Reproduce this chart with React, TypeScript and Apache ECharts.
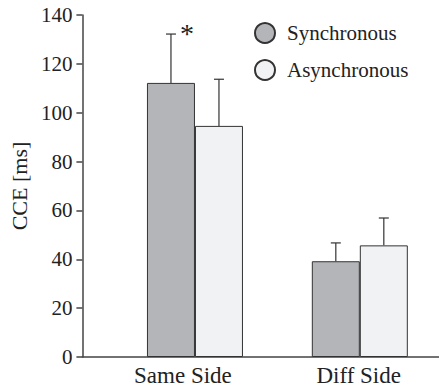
import React, { useEffect, useRef } from "react";
import * as echarts from "echarts";

const categories = ["Same Side", "Diff Side"];
const positions = [1, 2];
const labelPositions = [0.927, 1.993];
const syncMeans = [112.2, 39.2];
const syncUpper = [132.2, 46.7];
const asyncMeans = [94.6, 45.7];
const asyncUpper = [113.7, 56.9];
const significance = ["*", ""];
const yTicks = [0, 20, 40, 60, 80, 100, 120, 140];

const FONT = '"Liberation Serif", "Times New Roman", serif';
const SYNC_COLOR = "#b4b5b9";
const ASYNC_COLOR = "#f1f2f4";
const EDGE = "#333333";

function errorSeries(means: number[], uppers: number[], offset: number, marks: string[]) {
  return {
    type: "custom",
    z: 5,
    silent: true,
    data: positions.map((p, i) => [p, means[i], uppers[i], i]),
    renderItem: (params: any, api: any) => {
      const x = api.value(0);
      const lo = api.value(1);
      const hi = api.value(2);
      const idx = api.value(3);
      const p0 = api.coord([x, lo]);
      const p1 = api.coord([x, hi]);
      const cx = p0[0] + offset;
      const style = { stroke: EDGE, lineWidth: 1.2 };
      const children: any[] = [
        { type: "line", shape: { x1: cx, y1: p0[1], x2: cx, y2: p1[1] }, style },
        { type: "line", shape: { x1: cx - 5, y1: p1[1], x2: cx + 5, y2: p1[1] }, style },
      ];
      const m = marks[idx];
      if (m) {
        children.push({
          type: "text",
          x: cx + 16,
          y: p1[1] - 1,
          style: {
            text: m,
            fontSize: 28,
            fontFamily: FONT,
            fill: "#222",
            align: "center",
            verticalAlign: "middle",
          },
        });
      }
      return { type: "group", children };
    },
  };
}

function labelFor(v: number) {
  let best = 0;
  labelPositions.forEach((p, i) => {
    if (Math.abs(p - v) < Math.abs(labelPositions[best] - v)) best = i;
  });
  return categories[best];
}

export default function App() {
  const ref = useRef<HTMLDivElement>(null);
  useEffect(() => {
    if (!ref.current) return;
    const chart = echarts.init(ref.current, null, { renderer: "svg" });
    chart.setOption({
      animation: false,
      textStyle: { fontFamily: FONT },
      grid: { left: 81, top: 15, right: 0, bottom: 33 },
      legend: {
        orient: "vertical",
        left: 249,
        top: 17,
        icon: "circle",
        itemWidth: 20,
        itemHeight: 20,
        itemGap: 15,
        data: ["Synchronous", "Asynchronous"],
        itemStyle: { borderColor: "#333", borderWidth: 2 },
        textStyle: { fontFamily: FONT, fontSize: 21, color: "#222", padding: [0, 0, 0, 7] },
      },
      xAxis: {
        type: "value",
        min: 0.3172,
        max: 2.4803,
        splitLine: { show: false },
        axisTick: { show: false },
        axisLine: { show: true, lineStyle: { color: "#444", width: 1.5 } },
        axisLabel: {
          customValues: labelPositions,
          formatter: (v: number) => labelFor(v),
          fontFamily: FONT,
          fontSize: 23,
          color: "#222",
          margin: 7,
        },
      },
      yAxis: {
        type: "value",
        min: 0,
        max: 140,
        interval: 20,
        name: "CCE [ms]",
        nameLocation: "middle",
        nameGap: 48,
        nameTextStyle: { fontFamily: FONT, fontSize: 22, color: "#222" },
        splitLine: { show: false },
        axisLine: { show: true, lineStyle: { color: "#444", width: 1.5 } },
        axisTick: { show: true, inside: false, length: 6, lineStyle: { color: "#444", width: 1.5 } },
        axisLabel: {
          fontFamily: FONT,
          fontSize: 21,
          color: "#222",
          margin: 10,
          customValues: yTicks,
        },
      },
      series: [
        {
          name: "Synchronous",
          type: "bar",
          barWidth: 48,
          barGap: "0%",
          data: positions.map((p, i) => [p, syncMeans[i]]),
          itemStyle: { color: SYNC_COLOR, borderColor: EDGE, borderWidth: 1 },
        },
        {
          name: "Asynchronous",
          type: "bar",
          barWidth: 48,
          barGap: "0%",
          data: positions.map((p, i) => [p, asyncMeans[i]]),
          itemStyle: { color: ASYNC_COLOR, borderColor: EDGE, borderWidth: 1 },
        },
        errorSeries(syncMeans, syncUpper, -24, significance),
        errorSeries(asyncMeans, asyncUpper, 24, ["", ""]),
      ],
    });
    return () => chart.dispose();
  }, []);
  return <div ref={ref} style={{ width: 439, height: 390, position: "absolute", left: 0, top: 0 }} />;
}
